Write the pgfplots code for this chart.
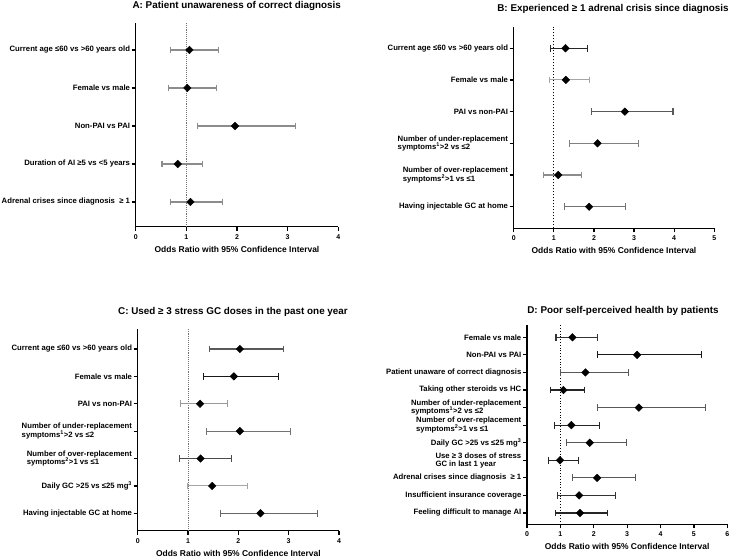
\documentclass[border=0pt]{standalone}
\usepackage{fontspec}
\setmainfont{Liberation Sans}
\usepackage{pgfplots}
\pgfplotsset{compat=1.18}
\newcommand{\lfont}{\bfseries\fontsize{7.75}{8.4}\selectfont}
\newcommand{\nfont}{\bfseries\fontsize{7}{8}\selectfont}
\newcommand{\xfont}{\bfseries\fontsize{8.5}{9.5}\selectfont}
\newcommand{\tfont}{\bfseries\fontsize{9.9}{11}\selectfont}
\pgfplotsset{
 fp/.style={
  scale only axis,
  anchor=south west,
  axis x line*=bottom, axis y line*=left,
  axis line style={line width=1.4bp, black},
  every tick/.style={line width=1.2bp, black},
  major tick length=4bp,
  tick align=outside,
  xmin=0,
  /pgf/number format/assume math mode=true,
  xticklabel style={font=\nfont},
  yticklabel style={align=left, font=\lfont, inner sep=1.5bp},
  xlabel style={font=\xfont, at={(axis description cs:0.5,0)}, anchor=center, yshift=-22.5bp},
  xlabel={Odds Ratio with 95\% Confidence Interval},
  clip=false,
 },
 ci/.style={mark=|, mark size=3.4bp, line width=1.1bp, mark options={solid, line width=1.1bp}},
 pt/.style={only marks, mark=square*, mark size=2.7bp, mark options={rotate=45, black, draw=black, fill=black}, black},
}
\newcommand{\ci}[4]{\addplot[ci, color=#4] coordinates {(#1,#3) (#2,#3)};}
\begin{document}
\begin{tikzpicture}
\useasboundingbox (0,0) rectangle (730bp,558bp);
% ---------- A ----------
\node[font=\tfont] at (236.7bp,552.3bp) {A: Patient unawareness of correct diagnosis};
\begin{axis}[fp, at={(135.7bp,331.3bp)}, width=202.6bp, height=203.7bp,
  xmax=4, xtick={0,1,2,3,4}, ymin=0.35, ymax=5.71, ytick={1,2,3,4,5},
  yticklabels={{Adrenal crises since diagnosis \ ≥ 1},{Duration of AI ≥5 vs <5 years},{Non-PAI vs PAI},{Female vs male},{Current age ≤60 vs >60 years old}}]
\addplot[densely dotted, black!55, line width=0.9bp] coordinates {(1,0.35) (1,5.71)};
\ci{0.68}{1.64}{5}{black!45}
\ci{0.65}{1.60}{4}{black!45}
\ci{1.22}{3.16}{3}{black!45}
\ci{0.52}{1.32}{2}{black!45}
\ci{0.68}{1.72}{1}{black!45}
\addplot[pt] coordinates {(1.06,5) (1.02,4) (1.96,3) (0.83,2) (1.08,1)};
\end{axis}
% ---------- B ----------
\node[font=\tfont] at (613bp,548.7bp) {B: Experienced ≥ 1 adrenal crisis since diagnosis};
\begin{axis}[fp, at={(513.7bp,329.7bp)}, width=200.6bp, height=201.6bp,
  xmax=5, xtick={0,1,2,3,4,5}, ymin=0.32, ymax=6.68, ytick={1,2,3,4,5,6},
  yticklabels={{Having injectable GC at home},{Number of over-replacement\\symptoms\textsuperscript{2}>1 vs ≤1},{Number of under-replacement\\symptoms\textsuperscript{1}>2 vs ≤2},{PAI vs non-PAI},{Female vs male},{Current age ≤60 vs >60 years old}}]
\addplot[dash pattern=on 1.6bp off 1.4bp, black, line width=0.7bp] coordinates {(1,0.32) (1,6.68)};
\ci{0.91}{1.84}{6}{black!85}
\ci{0.90}{1.89}{5}{black!35}
\ci{1.94}{3.97}{4}{black!65}
\ci{1.40}{3.11}{3}{black!50}
\ci{0.75}{1.68}{2}{black!45}
\ci{1.26}{2.78}{1}{black!55}
\addplot[pt] coordinates {(1.29,6) (1.30,5) (2.77,4) (2.09,3) (1.11,2) (1.88,1)};
\end{axis}
% ---------- C ----------
\node[font=\tfont] at (233bp,246.3bp) {C: Used ≥ 3 stress GC doses in the past one year};
\begin{axis}[fp, at={(137.7bp,27.3bp)}, width=201.3bp, height=201.7bp,
  xmax=4, xtick={0,1,2,3,4}, ymin=0.365, ymax=7.73, ytick={1,2,3,4,5,6,7},
  yticklabels={{Having injectable GC at home},{Daily GC >25 vs ≤25 mg\textsuperscript{3}},{Number of over-replacement\\symptoms\textsuperscript{2}>1 vs ≤1},{Number of under-replacement\\symptoms\textsuperscript{1}>2 vs ≤2},{PAI vs non-PAI},{Female vs male},{Current age ≤60 vs >60 years old}}]
\addplot[densely dotted, black!55, line width=0.9bp] coordinates {(1,0.365) (1,7.73)};
\ci{1.42}{2.89}{7}{black!65}
\ci{1.30}{2.79}{6}{black!90}
\ci{0.85}{1.79}{5}{black!40}
\ci{1.36}{3.04}{4}{black!55}
\ci{0.83}{1.87}{3}{black!70}
\ci{0.99}{2.19}{2}{black!35}
\ci{1.64}{3.57}{1}{black!60}
\addplot[pt] coordinates {(2.03,7) (1.91,6) (1.24,5) (2.03,4) (1.25,3) (1.48,2) (2.44,1)};
\end{axis}
% ---------- D ----------
\node[font=\tfont] at (623bp,247.3bp) {D: Poor self-perceived health by patients};
\begin{axis}[fp, at={(527bp,33.7bp)}, width=200.3bp, height=199.3bp,
  xmax=6, xtick={0,1,2,3,4,5,6}, ymin=0.357, ymax=11.70, ytick={1,2,3,4,5,6,7,8,9,10,11},
  yticklabels={{Feeling difficult to manage AI},{Insufficient insurance coverage},{Adrenal crises since diagnosis \ ≥ 1},{Use ≥ 3 doses of stress\\GC in last 1 year},{Daily GC >25 vs ≤25 mg\textsuperscript{3}},{Number of over-replacement\\symptoms\textsuperscript{2}>1 vs ≤1},{Number of under-replacement\\symptoms\textsuperscript{1}>2 vs ≤2},{Taking other steroids vs HC},{Patient unaware of correct diagnosis},{Non-PAI vs PAI},{Female vs male}}]
\addplot[dotted, black, line width=0.8bp] coordinates {(1,0.357) (1,11.70)};
\ci{0.87}{2.12}{11}{black!80}
\ci{2.12}{5.24}{10}{black!90}
\ci{1.00}{3.03}{9}{black!65}
\ci{0.70}{1.71}{8}{black!85}
\ci{2.11}{5.36}{7}{black!65}
\ci{0.82}{2.17}{6}{black!85}
\ci{1.18}{2.97}{5}{black!65}
\ci{0.65}{1.53}{4}{black!85}
\ci{1.36}{3.24}{3}{black!65}
\ci{0.92}{2.65}{2}{black!80}
\ci{0.85}{2.41}{1}{black!85}
\addplot[pt] coordinates {(1.36,11) (3.30,10) (1.75,9) (1.09,8) (3.35,7) (1.33,6) (1.88,5) (0.99,4) (2.10,3) (1.56,2) (1.59,1)};
\end{axis}
\end{tikzpicture}
\end{document}
